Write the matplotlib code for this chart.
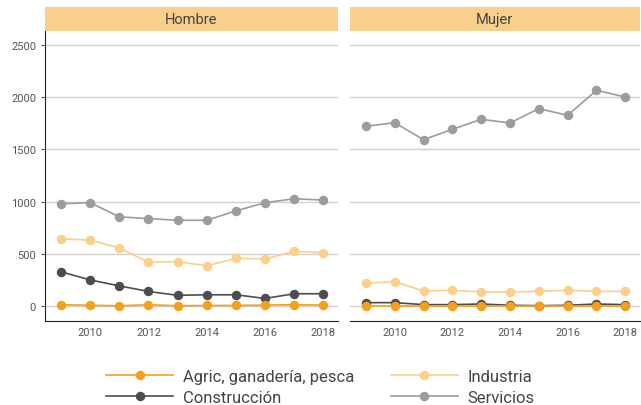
import numpy as np
from matplotlib import pyplot as plt

plt.rcParams['font.family'] = ['Roboto', 'DejaVu Sans']

years = np.arange(2009, 2019)
sectores = ['Agric, ganadería, pesca', 'Construcción', 'Industria', 'Servicios']
colores = ['#F5A01A', '#4D4D4D', '#FCCF8A', '#9C9C9C']

hombre_agric = [15, 10, 5, 15, 5, 8, 8, 12, 15, 12]
hombre_constr = [330, 252, 195, 142, 105, 110, 110, 75, 120, 120]
hombre_ind = [645, 632, 558, 422, 426, 388, 458, 452, 525, 512]
hombre_serv = [980, 990, 855, 838, 822, 822, 912, 990, 1028, 1015]

mujer_agric = [2, 2, 2, 2, 2, 2, 2, 2, 2, 2]
mujer_constr = [35, 35, 16, 16, 22, 10, 6, 10, 22, 16]
mujer_ind = [220, 236, 146, 153, 137, 137, 143, 153, 143, 143]
mujer_serv = [1720, 1755, 1592, 1691, 1787, 1752, 1889, 1825, 2064, 2000]

paneles = [('Hombre', [hombre_agric, hombre_constr, hombre_ind, hombre_serv]),
           ('Mujer', [mujer_agric, mujer_constr, mujer_ind, mujer_serv])]

fig = plt.figure(figsize=(6.41, 4.06), dpi=100)
posiciones = [[0.0702, 0.207, 0.457, 0.714], [0.546, 0.207, 0.452, 0.714]]

for i, (titulo, series) in enumerate(paneles):
    ax = fig.add_axes(posiciones[i])
    for nombre, vals, c in zip(sectores, series, colores):
        ax.plot(years, vals, color=c, lw=1.2, marker='o', ms=5.8, label=nombre,
                zorder=5 if c == '#F5A01A' else 3)
    ax.set_xlim(2008.45, 2018.5)
    ax.set_ylim(-140, 2630)
    ax.set_yticks([0, 500, 1000, 1500, 2000, 2500])
    ax.set_xticks([2010, 2012, 2014, 2016, 2018])
    ax.grid(axis='y', color='#D0D0D0', lw=1)
    ax.set_axisbelow(True)
    for s in ['top', 'right']:
        ax.spines[s].set_visible(False)
    ax.spines['bottom'].set_color('#222222')
    ax.tick_params(axis='x', length=0, labelsize=8, labelcolor='#555555', pad=4)
    if i == 0:
        ax.spines['left'].set_color('#222222')
        ax.tick_params(axis='y', length=3, labelsize=8, labelcolor='#555555', color='#555555')
    else:
        ax.spines['left'].set_visible(False)
        ax.tick_params(axis='y', length=0, labelleft=False)
    # franja del titulo
    p = posiciones[i]
    fig.patches.append(plt.Rectangle((p[0], 0.921), p[2], 0.059, transform=fig.transFigure,
                                     facecolor='#F9CF8E', edgecolor='none'))
    fig.text(p[0] + p[2] / 2, 0.921 + 0.0295, titulo, ha='center', va='center',
             fontsize=10.5, color='#444444')

handles, labels = ax.get_legend_handles_labels()
fig.legend(handles, labels, ncol=2, loc='lower center', bbox_to_anchor=(0.5, -0.036),
           frameon=False, fontsize=12, handlelength=4.0, handletextpad=0.6,
           columnspacing=2.2, labelspacing=0.35, numpoints=1, labelcolor='#444444')

fig.savefig('out.png', dpi=100)
